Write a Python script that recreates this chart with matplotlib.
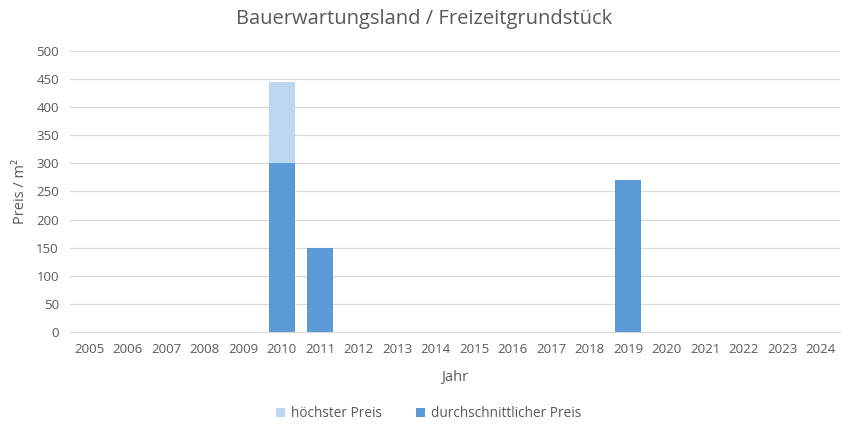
import matplotlib
matplotlib.use("Agg")
import matplotlib.pyplot as plt
import numpy as np

years = [str(y) for y in range(2005, 2025)]
hoechster_preis = [0, 0, 0, 0, 0, 445, 150, 0, 0, 0, 0, 0, 0, 0, 270, 0, 0, 0, 0, 0]
durchschnitt_preis = [0, 0, 0, 0, 0, 300, 150, 0, 0, 0, 0, 0, 0, 0, 270, 0, 0, 0, 0, 0]

plt.rcParams['font.family'] = ['Open Sans', 'DejaVu Sans']
text_col = '#595959'

fig = plt.figure(figsize=(8.48, 4.26), dpi=100)
ax = fig.add_axes([0.0825, 0.2207, 0.908, 0.6596])

x = np.arange(len(years))
ax.bar(x, hoechster_preis, width=0.68, color='#bdd7ee', label='höchster Preis', zorder=2)
ax.bar(x, durchschnitt_preis, width=0.68, color='#5b9bd5', label='durchschnittlicher Preis', zorder=3)

ax.set_xlim(-0.5, len(years) - 0.5)
ax.set_ylim(0, 500)
ax.set_yticks(range(0, 501, 50))
ax.set_xticks(x)
ax.set_xticklabels(years)
ax.grid(axis='y', color='#d9d9d9', linewidth=0.9, zorder=0)
for s in ['top', 'right', 'left']:
    ax.spines[s].set_visible(False)
ax.spines['bottom'].set_color('#d9d9d9')
ax.tick_params(length=0, labelsize=9.5, colors=text_col, pad=8)

fig.suptitle('Bauerwartungsland / Freizeitgrundstück', x=0.5, y=0.978, fontsize=14.5, color=text_col)
ax.set_xlabel('Jahr', fontsize=10.5, color=text_col, labelpad=10)
ax.set_ylabel('Preis / m²', fontsize=10.5, color=text_col, labelpad=6)

fig.legend(loc='lower center', bbox_to_anchor=(0.505, -0.018), ncol=2, frameon=False,
           fontsize=9.8, labelcolor=text_col, handlelength=0.7, handleheight=0.7,
           columnspacing=2.5, handletextpad=0.4)

fig.savefig('out.png', dpi=100)
